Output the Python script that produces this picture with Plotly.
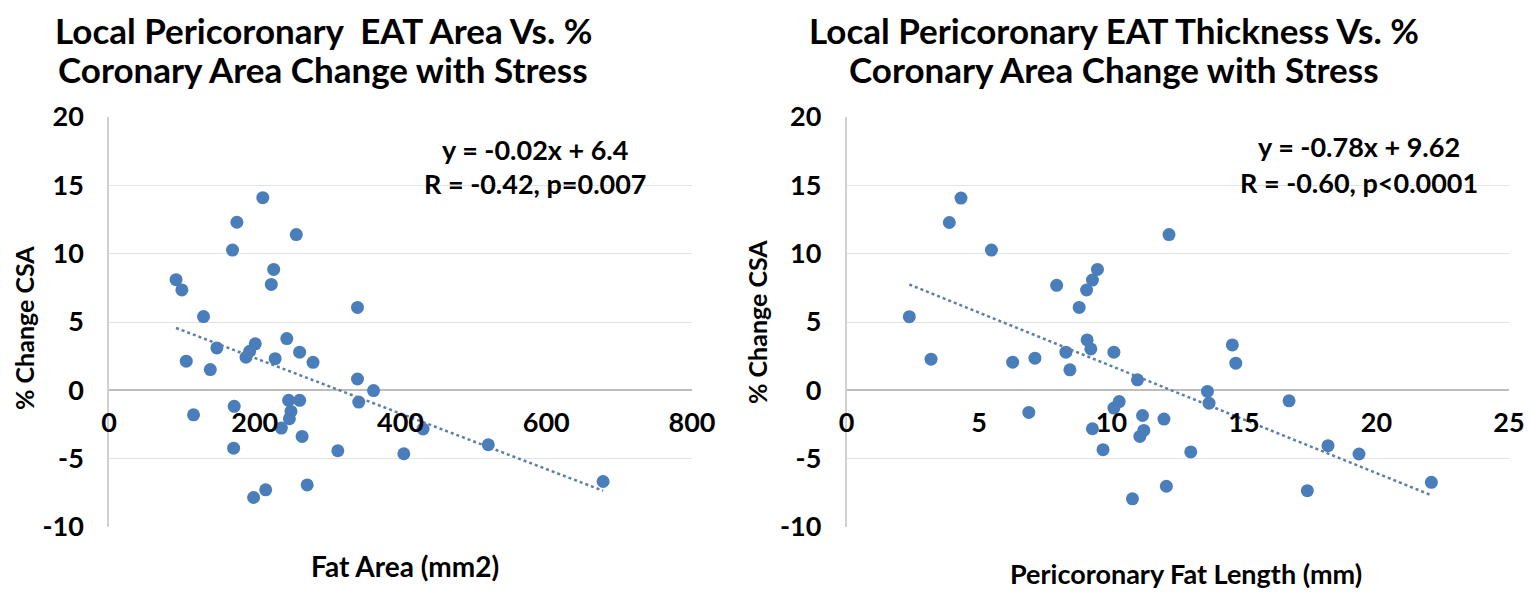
import numpy as np
import plotly.graph_objects as go

# Left panel: Fat Area (mm2) vs % change CSA
fat_area = [211, 175.5, 257, 169.5, 226, 222.7, 92, 100, 129.7, 341,
            148, 106, 139, 200.7, 193, 188, 228, 244, 261.6, 280,
            341, 363, 342.7, 246.5, 261.6, 249.7, 247.5, 116, 171.8, 236.5,
            265, 431, 171, 314, 404.6, 215, 198.4, 272, 520.5, 678]
csa_left = [14.1, 12.3, 11.4, 10.26, 8.85, 7.75, 8.1, 7.35, 5.4, 6.07,
            3.1, 2.13, 1.52, 3.4, 2.86, 2.42, 2.32, 3.79, 2.79, 2.05,
            0.83, -0.02, -0.86, -0.73, -0.73, -1.54, -2.08, -1.79, -1.17, -2.76,
            -3.37, -2.83, -4.23, -4.42, -4.64, -7.28, -7.84, -6.92, -3.98, -6.67]

# Right panel: Pericoronary fat length (mm) vs % change CSA
fat_length = [4.32, 3.88, 5.47, 12.17, 9.47, 9.28, 9.06, 7.93, 8.78, 2.37,
              3.19, 6.27, 7.11, 8.28, 8.43, 9.08, 9.22, 10.09, 10.98, 10.29,
              10.09, 6.88, 11.17, 11.98, 9.28, 11.22, 11.07, 9.68, 10.79, 12.07,
              14.56, 14.69, 13.62, 13.68, 16.7, 12.99, 18.17, 19.34, 17.39, 22.07]
csa_right = [14.07, 12.28, 10.26, 11.4, 8.85, 8.07, 7.34, 7.68, 6.07, 5.39,
             2.28, 2.06, 2.35, 2.79, 1.5, 3.69, 3.03, 2.79, 0.77, -0.82,
             -1.3, -1.62, -1.84, -2.1, -2.81, -2.93, -3.37, -4.34, -7.94, -7.02,
             3.32, 1.99, -0.08, -0.94, -0.77, -4.51, -4.05, -4.66, -7.34, -6.73]

left_ticks = [0, 200, 400, 600, 800]
right_ticks = [0, 5, 10, 15, 20, 25]
y_ticks = [-10, -5, 0, 5, 10, 15, 20]

title_lines = [["Local Pericoronary  EAT Area Vs. %", "Coronary Area Change with Stress"],
               ["Local Pericoronary EAT Thickness Vs. %", "Coronary Area Change with Stress"]]
eq_lines = [["y = -0.02x + 6.4", "R = -0.42, p=0.007"],
            ["y = -0.78x + 9.62", "R = -0.60, p<0.0001"]]
x_titles = ["Fat Area (mm2)", "Pericoronary Fat Length (mm)"]
y_title = "% Change CSA"

# page body adds an 8px margin around the figure
OFF = 8
W, H = 1532 - OFF, 595 - OFF
FONT = "Lato"
BLUE = "#4a7ebb"
GRID = "#e3e3e3"

def px(x):
    return (x - OFF) / W

def py(y):
    return 1 - (y - OFF) / H

ydom = [py(527), py(117)]
xdom_l = [px(109), px(692)]
xdom_r = [px(846.5), px(1509)]
yr = [-10, 20]
zero_pos = ydom[0] + (0 - yr[0]) / (yr[1] - yr[0]) * (ydom[1] - ydom[0])

fig = go.Figure()

def add_panel(xs, ys, xa, ya):
    fig.add_trace(go.Scatter(x=xs, y=ys, mode="markers", xaxis=xa, yaxis=ya,
                             marker=dict(color=BLUE, size=13), showlegend=False,
                             cliponaxis=False))
    k, b = np.polyfit(xs, ys, 1)
    xt = np.array([min(xs), max(xs)])
    fig.add_trace(go.Scatter(x=xt, y=k * xt + b, mode="lines", xaxis=xa, yaxis=ya,
                             line=dict(color="#5b7fa8", width=2.5, dash="dot"),
                             showlegend=False))

add_panel(fat_area, csa_left, "x", "y")
add_panel(fat_length, csa_right, "x2", "y2")

tickfont = dict(family=FONT, size=27, color="black")

def xaxis(dom, rng, ticks):
    return dict(domain=dom, range=rng, tickvals=ticks,
                ticktext=["<b>%g</b>" % t for t in ticks],
                anchor="free", position=zero_pos, automargin=False,
                ticklabelstandoff=14,
                showgrid=False, zeroline=False, showline=False, ticks="",
                tickfont=tickfont)

def yaxis(xa):
    return dict(domain=ydom, range=yr, tickvals=y_ticks,
                ticktext=["<b>%g</b>" % t for t in y_ticks],
                anchor=xa, automargin=False, ticklabelstandoff=18,
                showgrid=True, gridcolor=GRID, gridwidth=1,
                zeroline=True, zerolinecolor="#bdbdbd", zerolinewidth=1.5,
                showline=True, linecolor="#d0d0d0", linewidth=1.5, ticks="",
                tickfont=tickfont)

fig.update_layout(
    width=W, height=H, margin=dict(l=0, r=0, t=0, b=0, autoexpand=False),
    paper_bgcolor="white", plot_bgcolor="white",
    xaxis=xaxis(xdom_l, [0, 800], left_ticks),
    xaxis2=xaxis(xdom_r, [0, 25], right_ticks),
    yaxis=yaxis("x"),
    yaxis2=yaxis("x2"),
)

def ann(x, y, text, size, angle=0):
    return dict(x=px(x), y=py(y), xref="paper", yref="paper", text="<b>%s</b>" % text,
                showarrow=False, font=dict(family=FONT, size=size, color="black"),
                textangle=angle, xanchor="center", yanchor="middle")

annos = []
for cx, lines in zip([323, 1114], title_lines):
    annos.append(ann(cx, 30, lines[0], 35))
    annos.append(ann(cx, 69, lines[1], 35))
for cx, ys, lines in zip([535, 1359], [(150, 183), (147, 182)], eq_lines):
    annos.append(ann(cx, ys[0], lines[0], 27))
    annos.append(ann(cx, ys[1], lines[1], 27))
annos.append(ann(405, 566, x_titles[0], 28))
annos.append(ann(1186, 573, x_titles[1], 27))
annos.append(ann(24, 328, y_title, 25, -90))
annos.append(ann(757, 322, y_title, 25, -90))
fig.update_layout(annotations=annos)

fig.write_html("out.html")
